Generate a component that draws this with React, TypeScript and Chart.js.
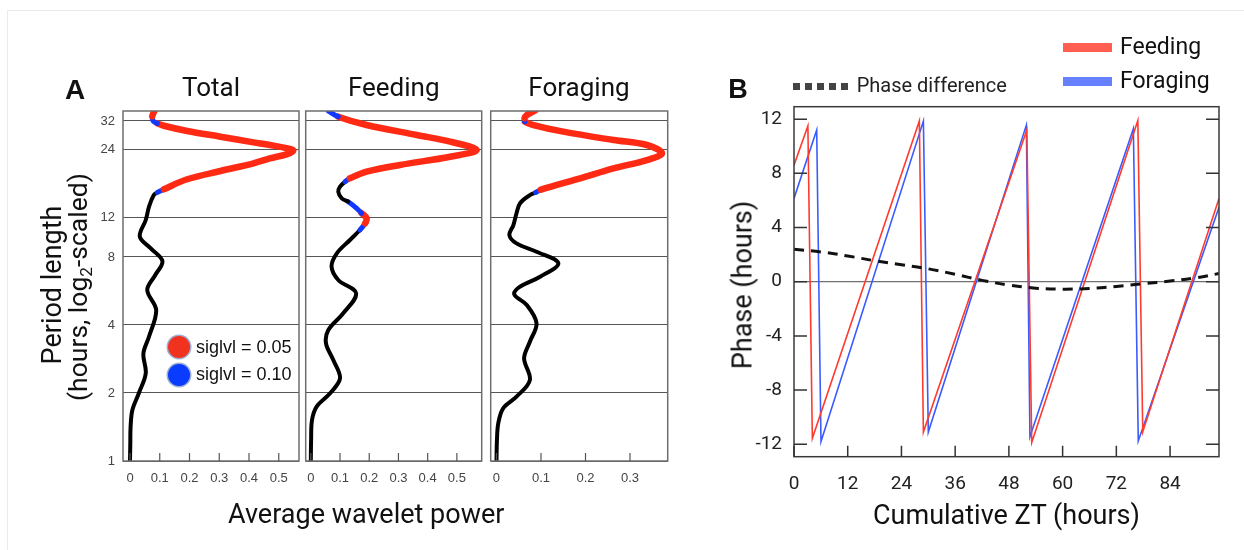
import React, { useEffect, useRef } from "react";
import { Chart, registerables } from "chart.js";

Chart.register(...registerables);

const W = 1244;
const H = 550;

// ---------------- Panel A data (log2 of period in hours vs average wavelet power) ----------------
const periodTicks = [1, 2, 4, 8, 12, 24, 32];
const totalXTicks = [0, 0.1, 0.2, 0.3, 0.4, 0.5];
const feedingXTicks = [0, 0.1, 0.2, 0.3, 0.4, 0.5];
const foragingXTicks = [0, 0.1, 0.2, 0.3];

// significance: 2 = siglvl 0.05 (red), 1 = siglvl 0.10 (blue), 0 = not significant (black)
const totalLog2Period = [0, 0.25, 0.5, 0.75, 1.0, 1.29, 1.58, 1.83, 2.22, 2.515, 2.735, 2.94, 3.13, 3.3, 3.544, 3.74, 3.91, 3.95, 3.996, 4.143, 4.265, 4.378, 4.45, 4.51, 4.563, 4.6, 4.647, 4.686, 4.769, 4.853, 4.93, 4.965, 5.0, 5.07, 5.147];
const totalPower = [0, 0.001, 0.002, 0.008, 0.03, 0.053, 0.045, 0.064, 0.088, 0.058, 0.085, 0.109, 0.069, 0.033, 0.053, 0.064, 0.08, 0.092, 0.114, 0.192, 0.304, 0.415, 0.47, 0.526, 0.549, 0.526, 0.47, 0.415, 0.304, 0.192, 0.114, 0.092, 0.078, 0.075, 0.082];
const totalSig = [0, 0, 0, 0, 0, 0, 0, 0, 0, 0, 0, 0, 0, 0, 0, 0, 0, 1, 2, 2, 2, 2, 2, 2, 2, 2, 2, 2, 2, 2, 2, 1, 1, 2, 2];

const feedingLog2Period = [0, 0.3, 0.6, 0.8, 0.996, 1.216, 1.485, 1.73, 1.926, 2.172, 2.466, 2.662, 2.857, 3.054, 3.25, 3.397, 3.496, 3.569, 3.643, 3.716, 3.813, 3.863, 3.96, 4.034, 4.107, 4.157, 4.254, 4.353, 4.475, 4.574, 4.696, 4.794, 4.941, 5.063, 5.147];
const feedingPower = [0, 0.001, 0.004, 0.02, 0.066, 0.1, 0.077, 0.052, 0.06, 0.111, 0.155, 0.094, 0.071, 0.089, 0.134, 0.168, 0.186, 0.191, 0.174, 0.157, 0.128, 0.106, 0.094, 0.1, 0.117, 0.134, 0.191, 0.305, 0.477, 0.568, 0.477, 0.363, 0.191, 0.094, 0.06];
const feedingSig = [0, 0, 0, 0, 0, 0, 0, 0, 0, 0, 0, 0, 0, 0, 0, 1, 2, 2, 1, 1, 0, 0, 0, 0, 1, 2, 2, 2, 2, 2, 2, 2, 2, 1, 1];

const foragingLog2Period = [0, 0.3, 0.554, 0.775, 0.946, 1.19, 1.51, 1.754, 2.025, 2.294, 2.45, 2.563, 2.71, 2.907, 3.078, 3.2, 3.32, 3.47, 3.643, 3.79, 3.91, 3.95, 3.99, 4.157, 4.304, 4.426, 4.525, 4.647, 4.72, 4.843, 4.94, 4.99, 5.04, 5.088, 5.16];
const foragingPower = [0, 0.001, 0.004, 0.015, 0.045, 0.075, 0.062, 0.075, 0.09, 0.068, 0.04, 0.053, 0.098, 0.139, 0.09, 0.045, 0.029, 0.038, 0.045, 0.053, 0.075, 0.088, 0.1, 0.188, 0.263, 0.338, 0.372, 0.338, 0.263, 0.15, 0.083, 0.064, 0.063, 0.068, 0.088];
const foragingSig = [0, 0, 0, 0, 0, 0, 0, 0, 0, 0, 0, 0, 0, 0, 0, 0, 0, 0, 0, 0, 0, 1, 2, 2, 2, 2, 2, 2, 2, 2, 2, 1, 2, 2, 2];

// ---------------- Panel B data ----------------
const ztTicks = [0, 12, 24, 36, 48, 60, 72, 84];
const phaseTicks = [-12, -8, -4, 0, 4, 8, 12];

const feedingZT = [0, 3.1, 4.1, 28.0, 28.9, 52.0, 53.1, 76.8, 77.9, 94.93];
const feedingPhase = [8.6, 11.5, -11.56, 11.86, -11.1, 11.2, -11.88, 11.9, -11.07, 6.15];

const foragingZT = [0, 5.07, 6.03, 28.9, 30.0, 51.9, 52.7, 75.8, 76.9, 94.93];
const foragingPhase = [6.15, 11.2, -11.8, 11.86, -11.1, 11.56, -11.44, 11.3, -11.76, 5.5];

const diffZT = [0, 6, 12, 18, 24, 30, 36, 42, 48, 54, 60, 66, 72, 78, 84, 90, 94.9];
const diffPhase = [2.4, 2.2, 1.9, 1.55, 1.25, 0.95, 0.55, 0.1, -0.25, -0.48, -0.55, -0.5, -0.35, -0.15, 0.05, 0.3, 0.6];

// ---------------- styling ----------------
const SIG_COLORS = ["#000000", "#1238ff", "#ff2a14"];
const SIG_WIDTHS = [4, 5, 6.5];
const Y_AXIS_W = 60;
const X_AXIS_H = 40;

const framePlugin = {
  id: "frame",
  afterDatasetsDraw(chart: any, _args: any, opts: any) {
    const { ctx, chartArea: a, scales } = chart;
    ctx.save();
    ctx.strokeStyle = opts.color;
    ctx.lineWidth = opts.width;
    ctx.strokeRect(a.left, a.top, a.right - a.left, a.bottom - a.top);
    ctx.strokeStyle = opts.tickColor;
    ctx.lineWidth = opts.tickWidth;
    ctx.beginPath();
    (opts.xTicks || []).forEach((v: number) => {
      const px = scales.x.getPixelForValue(v);
      ctx.moveTo(px, a.bottom);
      ctx.lineTo(px, a.bottom - opts.xTickLen);
    });
    (opts.yTicks || []).forEach((v: number) => {
      const py = scales.y.getPixelForValue(v);
      ctx.moveTo(a.left, py);
      ctx.lineTo(a.left + opts.yTickLen, py);
      ctx.moveTo(a.right, py);
      ctx.lineTo(a.right - opts.yTickLen, py);
    });
    ctx.stroke();
    ctx.restore();
  },
};

type Area = { left: number; right: number; top: number; bottom: number };

function paddingFor(area: Area) {
  return {
    left: area.left - Y_AXIS_W,
    right: W - area.right,
    top: area.top,
    bottom: H - area.bottom - X_AXIS_H,
  };
}

function fmtPower(v: number) {
  if (Math.abs(v) < 1e-9) return "0";
  return v.toFixed(1);
}

function makeWaveletChart(
  canvas: HTMLCanvasElement,
  area: Area,
  xMin: number,
  xMax: number,
  xTicks: number[],
  log2Period: number[],
  power: number[],
  sig: number[],
  showY: boolean
) {
  return new Chart(canvas, {
    type: "scatter",
    data: {
      datasets: [
        {
          data: log2Period.map((l, i) => ({ x: power[i], y: l })),
          showLine: true,
          pointRadius: 0,
          borderColor: "#000",
          borderWidth: 4,
          tension: 0.35,
          borderCapStyle: "round",
          borderJoinStyle: "round",
          segment: {
            borderColor: (c: any) => SIG_COLORS[sig[c.p0DataIndex]],
            borderWidth: (c: any) => SIG_WIDTHS[sig[c.p0DataIndex]],
          },
        } as any,
      ],
    },
    options: {
      animation: false,
      responsive: false,
      devicePixelRatio: 1,
      events: [],
      layout: { padding: paddingFor(area) },
      plugins: {
        legend: { display: false },
        tooltip: { enabled: false },
        frame: {
          color: "#6e6e6e",
          width: 1.5,
          tickColor: "#555",
          tickWidth: 1.2,
          xTicks,
          xTickLen: 8,
          yTicks: [],
          yTickLen: 0,
        },
      } as any,
      scales: {
        x: {
          type: "linear",
          min: xMin,
          max: xMax,
          afterBuildTicks: (s: any) => {
            s.ticks = xTicks.map((v) => ({ value: v }));
          },
          afterFit: (s: any) => {
            s.height = X_AXIS_H;
          },
          grid: { display: false, drawTicks: false },
          border: { display: false },
          ticks: {
            autoSkip: false,
            maxRotation: 0,
            padding: 10,
            color: "#444",
            font: { family: "'Liberation Sans', Arial, sans-serif", size: 13 },
            callback: (v: any) => fmtPower(Number(v)),
          },
        },
        y: {
          type: "linear",
          min: 0,
          max: 5.147,
          afterBuildTicks: (s: any) => {
            s.ticks = periodTicks.map((p) => ({ value: Math.log2(p) }));
          },
          afterFit: (s: any) => {
            s.width = Y_AXIS_W;
          },
          grid: { color: "#555", lineWidth: 1, drawTicks: false },
          border: { display: false },
          ticks: {
            display: showY,
            autoSkip: false,
            padding: 8,
            color: "#444",
            font: { family: "'Liberation Sans', Arial, sans-serif", size: 13 },
            callback: (v: any) => String(Math.round(Math.pow(2, Number(v)))),
          },
        },
      },
    } as any,
    plugins: [framePlugin as any],
  });
}

function makePhaseChart(canvas: HTMLCanvasElement) {
  const area = { left: 794, right: 1219, top: 106.7, bottom: 456.7 };
  return new Chart(canvas, {
    type: "scatter",
    data: {
      datasets: [
        {
          label: "Phase difference",
          data: diffZT.map((x, i) => ({ x, y: diffPhase[i] })),
          showLine: true,
          pointRadius: 0,
          borderColor: "#111",
          borderWidth: 3,
          borderDash: [10, 7],
          tension: 0.4,
        },
        {
          label: "Feeding",
          data: feedingZT.map((x, i) => ({ x, y: feedingPhase[i] })),
          showLine: true,
          pointRadius: 0,
          borderColor: "#ff3a2e",
          borderWidth: 1.6,
          tension: 0,
        },
        {
          label: "Foraging",
          data: foragingZT.map((x, i) => ({ x, y: foragingPhase[i] })),
          showLine: true,
          pointRadius: 0,
          borderColor: "#3a5cff",
          borderWidth: 1.6,
          tension: 0,
        },
      ],
    },
    options: {
      animation: false,
      responsive: false,
      devicePixelRatio: 1,
      events: [],
      layout: { padding: paddingFor(area) },
      plugins: {
        legend: { display: false },
        tooltip: { enabled: false },
        frame: {
          color: "#3a3a3a",
          width: 1.5,
          tickColor: "#333",
          tickWidth: 1.5,
          xTicks: ztTicks,
          xTickLen: 11,
          yTicks: phaseTicks,
          yTickLen: 13,
        },
      } as any,
      scales: {
        x: {
          type: "linear",
          min: 0,
          max: 94.93,
          afterBuildTicks: (s: any) => {
            s.ticks = ztTicks.map((v) => ({ value: v }));
          },
          afterFit: (s: any) => {
            s.height = X_AXIS_H;
          },
          grid: { display: false, drawTicks: false },
          border: { display: false },
          ticks: {
            autoSkip: false,
            maxRotation: 0,
            padding: 16,
            color: "#222",
            font: { family: "Roboto, sans-serif", size: 19 },
          },
        },
        y: {
          type: "linear",
          min: -12.92,
          max: 12.92,
          afterBuildTicks: (s: any) => {
            s.ticks = phaseTicks.map((v) => ({ value: v }));
          },
          afterFit: (s: any) => {
            s.width = Y_AXIS_W;
          },
          grid: {
            drawTicks: false,
            lineWidth: 1.2,
            color: (c: any) => (c.tick && c.tick.value === 0 ? "#707070" : "rgba(0,0,0,0)"),
          },
          border: { display: false },
          ticks: {
            autoSkip: false,
            padding: 12,
            color: "#222",
            font: { family: "Roboto, sans-serif", size: 19 },
          },
        },
      },
    } as any,
    plugins: [framePlugin as any],
  });
}

// ---------------- text helpers ----------------
function Label(props: {
  children: React.ReactNode;
  x: number;
  baseline: number;
  size: number;
  family?: string;
  weight?: number;
  color?: string;
  center?: boolean;
}) {
  const family = props.family || "Roboto";
  const asc = family.indexOf("Liberation") >= 0 ? 0.8465 : 0.842;
  return (
    <div
      style={{
        position: "absolute",
        left: props.x,
        top: props.baseline - asc * props.size,
        fontFamily: family,
        fontSize: props.size,
        fontWeight: props.weight || 400,
        color: props.color || "#111",
        lineHeight: 1,
        whiteSpace: "nowrap",
        transform: props.center ? "translateX(-50%)" : undefined,
      }}
    >
      {props.children}
    </div>
  );
}

function VLabel(props: { children: React.ReactNode; cx: number; cy: number; size: number; color?: string }) {
  return (
    <div
      style={{
        position: "absolute",
        left: props.cx,
        top: props.cy,
        fontFamily: "Roboto",
        fontSize: props.size,
        color: props.color || "#111",
        lineHeight: 1,
        whiteSpace: "nowrap",
        transform: "translate(-50%, -50%) rotate(-90deg)",
      }}
    >
      {props.children}
    </div>
  );
}

export default function App() {
  const r1 = useRef<HTMLCanvasElement>(null);
  const r2 = useRef<HTMLCanvasElement>(null);
  const r3 = useRef<HTMLCanvasElement>(null);
  const r4 = useRef<HTMLCanvasElement>(null);

  useEffect(() => {
    const charts = [
      makeWaveletChart(r1.current!, { left: 123, right: 299, top: 111, bottom: 461 }, -0.0235, 0.568, totalXTicks, totalLog2Period, totalPower, totalSig, true),
      makeWaveletChart(r2.current!, { left: 305.7, right: 481.7, top: 111, bottom: 461 }, -0.0175, 0.585, feedingXTicks, feedingLog2Period, feedingPower, feedingSig, false),
      makeWaveletChart(r3.current!, { left: 490.7, right: 667.7, top: 111, bottom: 461 }, -0.013, 0.3847, foragingXTicks, foragingLog2Period, foragingPower, foragingSig, false),
      makePhaseChart(r4.current!),
    ];
    return () => charts.forEach((c) => c.destroy());
  }, []);

  const cv = { position: "absolute" as const, left: 0, top: 0 };
  const dash = [0, 1, 2, 3, 4];

  return (
    <div style={{ position: "absolute", left: 0, top: 0, width: W, height: H, background: "#fff", overflow: "hidden" }}>
      {/* faint figure frame */}
      <div style={{ position: "absolute", left: 7, top: 10, width: W, height: H, borderLeft: "1px solid #ebebeb", borderTop: "1px solid #ebebeb" }} />

      <canvas ref={r1} width={W} height={H} style={cv} />
      <canvas ref={r2} width={W} height={H} style={cv} />
      <canvas ref={r3} width={W} height={H} style={cv} />
      <canvas ref={r4} width={W} height={H} style={cv} />

      {/* Panel A */}
      <Label x={65} baseline={99.3} size={28} weight={700} family="Liberation Sans">A</Label>
      <Label x={211} baseline={96} size={26} center>Total</Label>
      <Label x={393.7} baseline={96} size={26} center>Feeding</Label>
      <Label x={579} baseline={96} size={26} center>Foraging</Label>
      <VLabel cx={51.5} cy={285} size={27}>Period length</VLabel>
      <VLabel cx={80} cy={287} size={26.5}>
        (hours, log<span style={{ fontSize: "0.65em", verticalAlign: "-0.25em" }}>2</span>-scaled)
      </VLabel>
      <Label x={228} baseline={524} size={27}>Average wavelet power</Label>

      <div style={{ position: "absolute", left: 168, top: 336, width: 22, height: 22, borderRadius: "50%", background: "#f0321e", boxShadow: "0 0 0 1.5px rgba(140,160,205,0.85)" }} />
      <div style={{ position: "absolute", left: 168, top: 364, width: 22, height: 22, borderRadius: "50%", background: "#0a3cff", boxShadow: "0 0 0 1.5px rgba(140,160,205,0.85)" }} />
      <Label x={196} baseline={353.3} size={18} family="Liberation Sans">siglvl = 0.05</Label>
      <Label x={196} baseline={380} size={18} family="Liberation Sans">siglvl = 0.10</Label>

      {/* Panel B */}
      <Label x={728.3} baseline={99.3} size={27} weight={700} family="Liberation Sans">B</Label>
      <VLabel cx={743} cy={285} size={27}>Phase (hours)</VLabel>
      <Label x={873} baseline={525} size={27}>Cumulative ZT (hours)</Label>

      {dash.map((i) => (
        <div key={i} style={{ position: "absolute", left: 793 + i * 12, top: 82.7, width: 7, height: 7, background: "#444" }} />
      ))}
      <Label x={856.7} baseline={92.3} size={20} color="#222">Phase difference</Label>

      <div style={{ position: "absolute", left: 1063, top: 43.3, width: 49, height: 9, background: "#ff5e50" }} />
      <Label x={1120} baseline={54.3} size={23}>Feeding</Label>
      <div style={{ position: "absolute", left: 1063, top: 76.7, width: 49, height: 9, background: "#6680ff" }} />
      <Label x={1120} baseline={88.3} size={23}>Foraging</Label>
    </div>
  );
}
